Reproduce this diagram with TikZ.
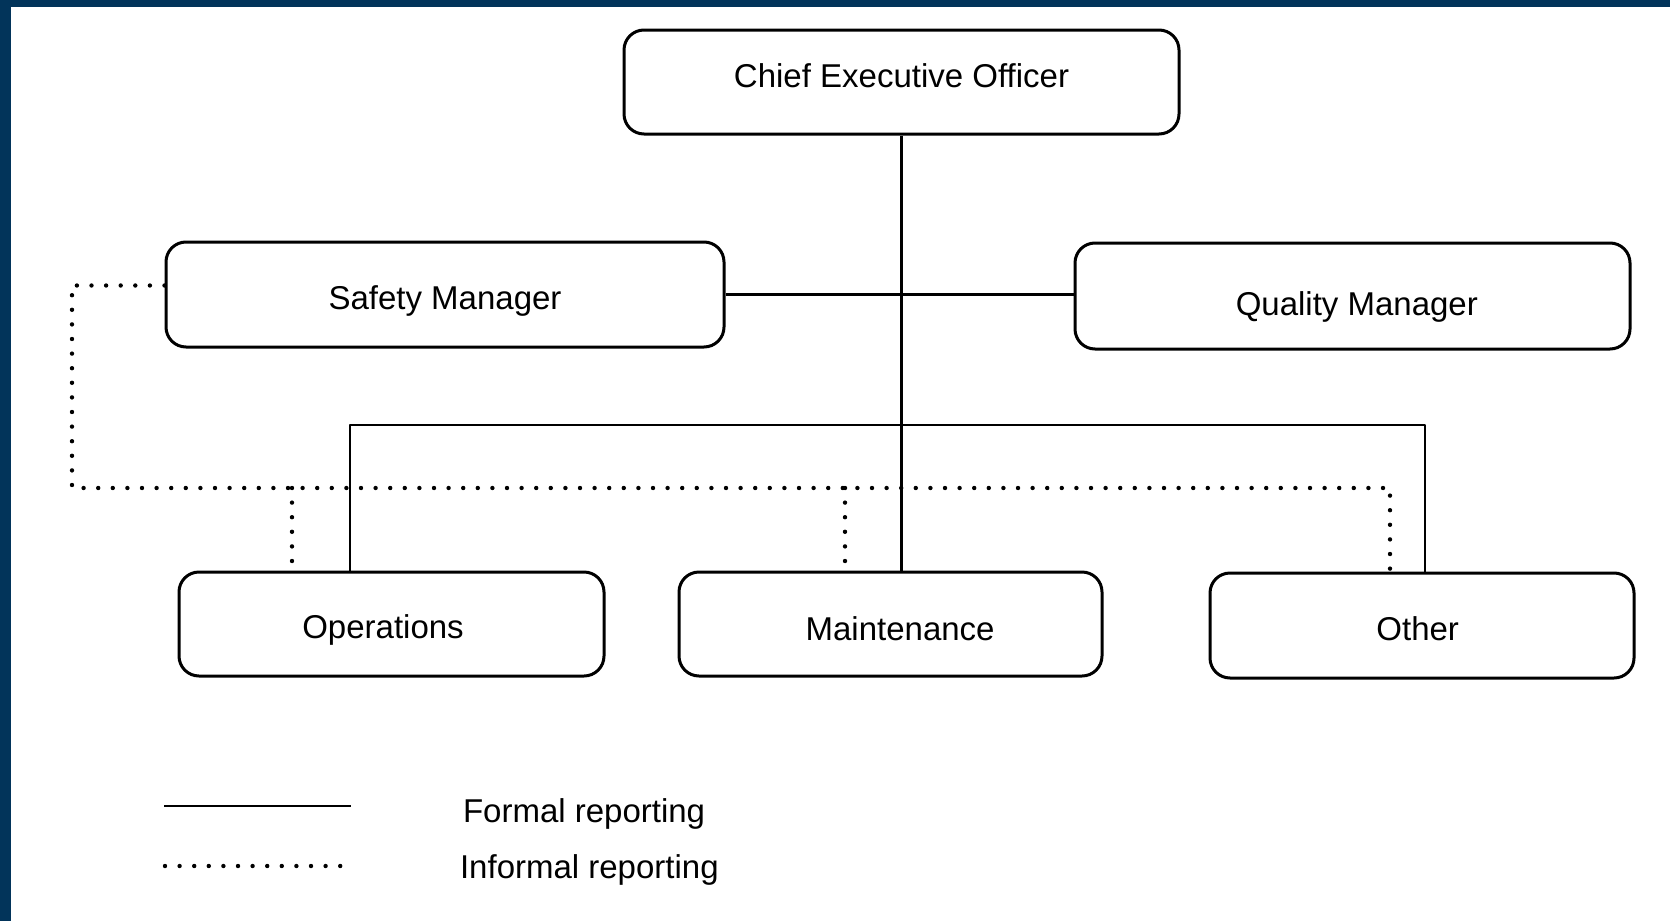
\documentclass[tikz,border=0pt]{standalone}
\usepackage{fontspec}
\setmainfont{Liberation Sans}
\usepackage{tikz}
\definecolor{frameblue}{RGB}{2,52,90}

\begin{document}
\begin{tikzpicture}[x=0.5pt, y=-0.5pt, line join=round,
	box node/.style={rectangle,draw,line width=1.5pt,rounded corners=10pt,
		font=\fontsize{16.5}{19}\selectfont,text height=12pt,text depth=4pt},
	formal/.style={line width=1.1pt},
	informal/.style={line width=2.2pt,line cap=round,dash pattern=on 0pt off 7.3pt}]
	
	\fill[frameblue] (0,0) rectangle (1670,921);
	\fill[white] (11,7) rectangle (1670,921);
	\useasboundingbox (0,0) rectangle (1670,921);
	
	\node[box node, minimum width=277.5pt, minimum height=52pt, text depth=6.2pt] (ceo) at (901.5,82) {Chief Executive Officer};
	\node[box node, minimum width=279pt, minimum height=52.5pt, text height=19.4pt] (sm) at (445,294.5) {Safety Manager};
	\node[box node, minimum width=277.5pt, minimum height=53pt, text height=23.7pt] (qm) at (1352.5,296) {\hspace*{4.3pt}Quality Manager};
	\node[box node, minimum width=212.5pt, minimum height=52pt, text height=18.4pt] (ops) at (391.5,624) {\hspace*{-8.5pt}Operations};
	\node[box node, minimum width=211.5pt, minimum height=52pt, text height=20.5pt] (mnt) at (890.5,624) {\hspace*{9.6pt}Maintenance};
	\node[box node, minimum width=212pt, minimum height=52.5pt, text height=19.4pt] (oth) at (1422,625.5) {\hspace*{-4.3pt}Other};
	
	\coordinate (busL) at (350,425);
	\coordinate (busR) at (1425,425);
	\coordinate (infL) at (72,488);
	\coordinate (infR) at (1390,488);
	\coordinate (dropA) at (292,488);
	\coordinate (dropB) at (845,488);
	
	% formal lines
	\draw[formal] (ceo.south) -- (ceo.south |- mnt.north);
	\draw[formal] (sm.east) -- (sm.east -| qm.west);
	\draw[formal] (busL |- ops.north) -- (busL) -- (busR) -- (busR |- oth.north);
	
	% informal lines
	\draw[informal] ([yshift=4.5pt]sm.west) -| (infL) -- (infR) -- (infR |- oth.north);
	\draw[informal] (dropA) -- (dropA |- ops.north);
	\draw[informal] (dropB) -- (dropB |- mnt.north);
	
	% legend
	\coordinate (lgA) at (164,806);
	\coordinate (lgB) at (351,806);
	\coordinate (lgC) at (165,866);
	\coordinate (lgD) at (346,866);
	\draw[formal] (lgA) -- (lgB);
	\draw[informal] (lgC) -- (lgD);
	\node[anchor=west, font=\fontsize{16.5}{19}\selectfont] (lgformal) at (456,814) {Formal reporting};
	\node[anchor=west, font=\fontsize{16.5}{19}\selectfont] (lginformal) at (453,870) {Informal reporting};
	
\end{tikzpicture}
\end{document}
